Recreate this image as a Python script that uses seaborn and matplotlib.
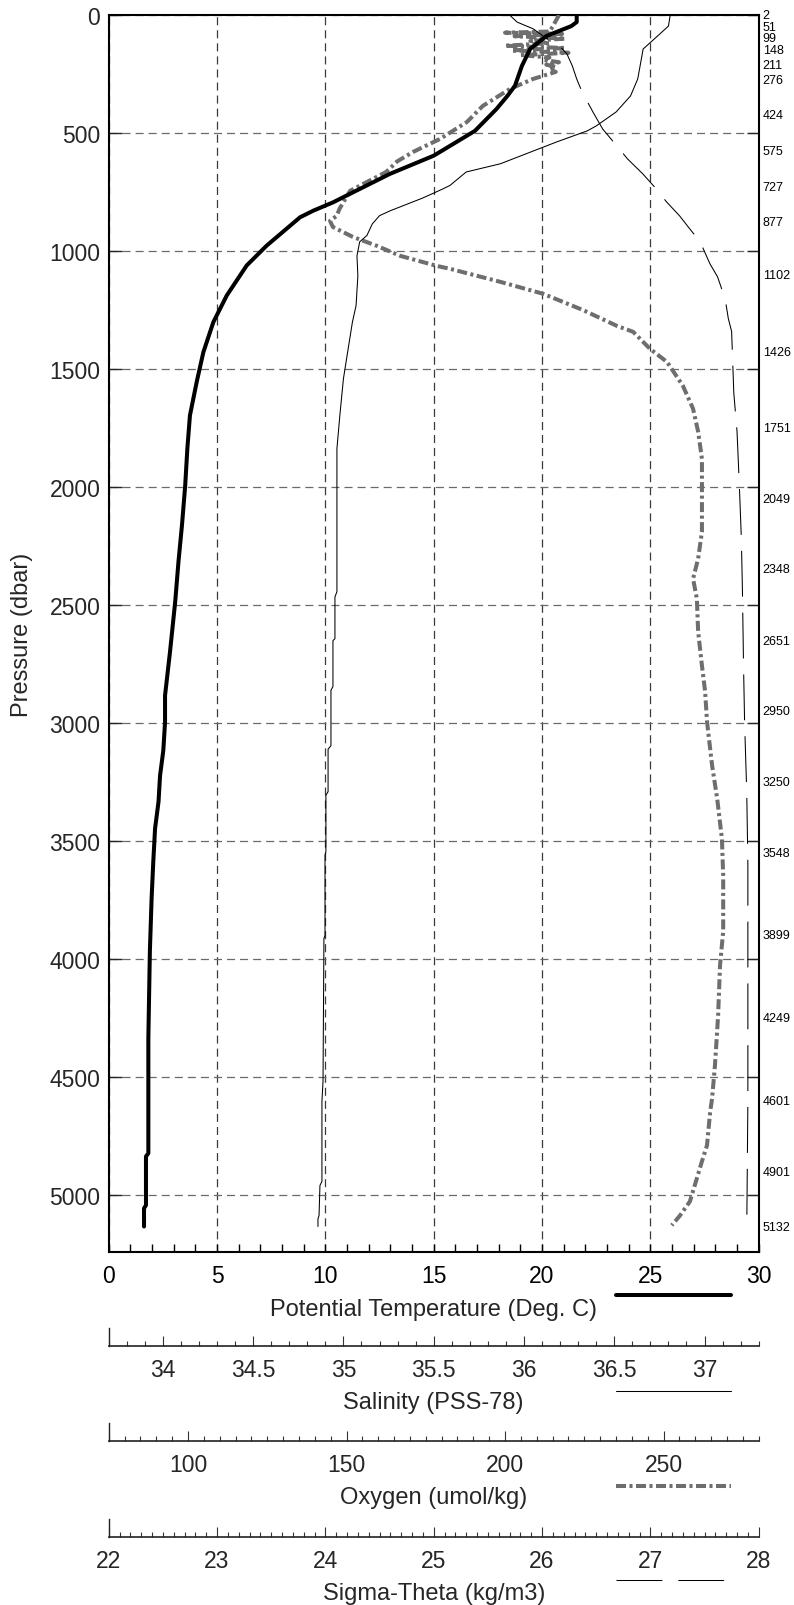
import numpy as np
import pandas as pd
import matplotlib
matplotlib.use("Agg")
import matplotlib.pyplot as plt
from matplotlib.lines import Line2D
from matplotlib.ticker import MultipleLocator, FixedLocator
import seaborn as sns

sns.set_style("white")
plt.rcParams['font.family'] = ['Liberation Sans', 'DejaVu Sans']
plt.rcParams['lines.scale_dashes'] = False

# ---------------- data ----------------
temp_pres = [0, 30, 47, 89, 144, 216, 300, 343, 398, 491, 596, 673, 779, 793, 829,
             857, 977, 1061, 1188, 1301, 1428, 1555, 1696, 1837, 1994, 2163, 2316, 2485,
             2697, 2883, 2997, 3116, 3222, 3332, 3446, 3582, 3743, 3967, 4335, 4822,
             4835, 5042, 5055, 5132]
temp_vals = [21.6, 21.6, 21.35, 20.2, 19.45, 19.07, 18.75, 18.4, 17.9, 16.9, 15.0,
             12.98, 10.67, 10.37, 9.44, 8.83, 7.29, 6.37, 5.45, 4.83, 4.37, 4.06, 3.75,
             3.63, 3.53, 3.38, 3.22, 3.07, 2.83, 2.6, 2.6, 2.52, 2.37, 2.3, 2.14, 2.06,
             1.98, 1.9, 1.83, 1.83, 1.72, 1.72, 1.63, 1.63]

sal_pres = [0, 47, 89, 144, 229, 271, 343, 411, 470, 491, 538, 630, 665, 722, 737, 775,
            829, 850, 885, 934, 961, 1020, 1105, 1231, 1300, 1444, 1541, 1698, 1837,
            2443, 2465, 2642, 2650, 2845, 2860, 3095, 3110, 3290, 3305, 3544, 3560,
            3899, 3912, 4517, 4602, 4941, 4958, 5085, 5100, 5132]
sal_vals = [36.81, 36.80, 36.74, 36.66, 36.64, 36.63, 36.59, 36.51, 36.40, 36.35, 36.18,
            35.87, 35.68, 35.59, 35.55, 35.44, 35.26, 35.20, 35.16, 35.13, 35.09, 35.075,
            35.08, 35.07, 35.05, 35.02, 35.00, 34.98, 34.964, 34.964, 34.953, 34.953,
            34.942, 34.942, 34.931, 34.931, 34.915, 34.915, 34.903, 34.903, 34.898,
            34.898, 34.892, 34.887, 34.881, 34.881, 34.870, 34.865, 34.859, 34.859]

oxy_pres = [0, 25, 50, 70, 75, 80, 90, 100, 110, 120, 130, 140, 150, 160, 170, 180, 190,
            200, 210, 220, 230, 241, 271, 313, 385, 453, 525, 580, 620, 665, 707, 745,
            766, 821, 851, 872, 898, 940, 978, 1020, 1063, 1075, 1130, 1181, 1250, 1317,
            1342, 1384, 1414, 1470, 1571, 1668, 1765, 1880, 1994, 2189, 2303, 2388, 2473,
            2612, 2756, 2866, 2993, 3179, 3319, 3489, 3645, 3882, 4026, 4238, 4450, 4590,
            4645, 4788, 4856, 4928, 5026, 5085, 5127]
oxy_vals = [217, 216, 215, 214, 200, 218, 203, 219, 208, 214, 200, 219, 202, 220, 205, 214,
            212, 217, 213, 216, 214, 216, 208.8, 201.6, 193.0, 188.0, 179.5, 171.0, 166.0,
            162.5, 156.5, 151.1, 150.2, 147.8, 146.9, 144.8, 145.7, 152.0, 159.6, 166.9,
            178.5, 182.6, 198.4, 212.0, 224.6, 235.3, 240.4, 243.5, 245.7, 251.1, 256.1,
            259.3, 260.9, 262.1, 262.1, 262.1, 260.9, 259.3, 260.5, 260.9, 262.1, 263.1,
            263.7, 265.3, 266.9, 268.4, 268.8, 268.8, 267.8, 267.2, 266.2, 265.3, 264.7,
            263.7, 262.1, 260.5, 258.3, 255.2, 252.6]

sig_pres = [0, 30, 59, 89, 135, 165, 216, 271, 326, 411, 483, 538, 610, 673, 724, 792,
            851, 898, 961, 1054, 1109, 1202, 1287, 1340, 1470, 1600, 1765, 1977, 2218,
            2443, 2756, 3000, 3300, 3600, 4600, 5132]
sig_vals = [25.70, 25.77, 25.92, 26.01, 26.17, 26.23, 26.28, 26.32, 26.37, 26.47, 26.56,
            26.66, 26.79, 26.93, 27.03, 27.15, 27.27, 27.35, 27.46, 27.55, 27.62, 27.69,
            27.72, 27.75, 27.76, 27.77, 27.80, 27.82, 27.84, 27.85, 27.86, 27.87, 27.89,
            27.90, 27.90, 27.89]

bottle_pres = [2, 51, 99, 148, 211, 276, 424, 575, 727, 877, 1102, 1426, 1751, 2049, 2348,
               2651, 2950, 3250, 3548, 3899, 4249, 4601, 4901, 5132]

pres_ticks = list(range(0, 5001, 500))
temp_ticks = [0, 5, 10, 15, 20, 25, 30]
sal_ticks = [34, 34.5, 35, 35.5, 36, 36.5, 37]
sal_labels = ["34", "34.5", "35", "35.5", "36", "36.5", "37"]
oxy_ticks = [100, 150, 200, 250]
sig_ticks = [22, 23, 24, 25, 26, 27, 28]

temp_lim = (0, 30)
sal_lim = (33.7, 37.3)
oxy_lim = (75, 280)
sig_lim = (22, 28)
pres_lim = (5240, 0)

temp_df = pd.DataFrame({"p": temp_pres, "v": temp_vals})
sal_df = pd.DataFrame({"p": sal_pres, "v": sal_vals})
oxy_df = pd.DataFrame({"p": oxy_pres, "v": oxy_vals})
sig_df = pd.DataFrame({"p": sig_pres, "v": sig_vals})

# ---------------- styles ----------------
GRAY = '#6e6e6e'
TICK_FS = 16.5
TITLE_FS = 17
oxy_ls = (0, (7.2, 2.5, 2.2, 2.5))
sig_ls = (0, (33, 11.5))

W, H = 794, 1606
L, R = 108.7, 758.7
TOP, BOT = 16, 1253

fig = plt.figure(figsize=(W / 100, H / 100), dpi=100)
ax = fig.add_axes([L / W, 1 - BOT / H, (R - L) / W, (BOT - TOP) / H])
ax.set_xlim(*temp_lim)
ax.set_ylim(*pres_lim)
ax.xaxis.set_major_locator(FixedLocator(temp_ticks))
ax.xaxis.set_minor_locator(MultipleLocator(1))
ax.yaxis.set_major_locator(FixedLocator(pres_ticks))
ax.set_xticklabels([str(t) for t in temp_ticks])
ax.set_yticklabels([str(t) for t in pres_ticks])
ax.tick_params(axis='x', which='both', direction='in', top=True, bottom=True,
               length=6, width=1.0, labelsize=TICK_FS, pad=8.5, colors='black')
ax.tick_params(axis='y', which='major', direction='in', left=True, right=True,
               length=9, width=1.0, labelsize=TICK_FS, pad=6)
ax.xaxis.grid(True, which='major', color='#3a3a3a', linestyle=(0, (5.8, 3.6)), linewidth=0.9)
ax.yaxis.grid(True, which='major', color='#6a6a6a', linestyle=(0, (5.8, 3.6)), linewidth=0.9)
for s in ax.spines.values():
    s.set_linewidth(1.5)
    s.set_color('black')
ax.set_ylabel("Pressure (dbar)", fontsize=TITLE_FS, labelpad=12)
ax.set_xlabel("Potential Temperature (Deg. C)", fontsize=TITLE_FS, labelpad=8)


def twin(lim):
    t = ax.twiny()
    t.set_xlim(*lim)
    t.set_axis_off()
    return t


ax_o = twin(oxy_lim)
sns.lineplot(data=oxy_df, x="v", y="p", orient="y", estimator=None, sort=True, ax=ax_o,
             color=GRAY, linewidth=2.9, linestyle=oxy_ls, legend=False)
ax_sg = twin(sig_lim)
sns.lineplot(data=sig_df, x="v", y="p", orient="y", estimator=None, sort=True, ax=ax_sg,
             color='black', linewidth=0.75, linestyle=sig_ls, legend=False)
ax_s = twin(sal_lim)
sns.lineplot(data=sal_df, x="v", y="p", orient="y", estimator=None, sort=True, ax=ax_s,
             color='black', linewidth=0.75, legend=False)
ax_t = twin(temp_lim)
sns.lineplot(data=temp_df, x="v", y="p", orient="y", estimator=None, sort=True, ax=ax_t,
             color='black', linewidth=2.9, legend=False)
ax_o.set_xlim(*oxy_lim)
ax_sg.set_xlim(*sig_lim)
ax_s.set_xlim(*sal_lim)
ax_t.set_xlim(*temp_lim)
ax.set_ylim(*pres_lim)

# bottle pressure labels at right
for bp in bottle_pres:
    ax.text(1.006, bp, str(bp), transform=ax.get_yaxis_transform(), ha='left',
            va='center', fontsize=9, color='black', clip_on=False)


def scale_axis(y_spine, lim, ticks, labels, minor, title):
    a = fig.add_axes([L / W, 1 - y_spine / H, (R - L) / W, 18 / H])
    a.set_xlim(*lim)
    a.set_ylim(0, 1)
    a.patch.set_visible(False)
    a.spines['top'].set_visible(False)
    a.spines['right'].set_visible(False)
    a.spines['left'].set_linewidth(1.0)
    a.spines['bottom'].set_linewidth(1.2)
    a.spines['left'].set_color('#222222')
    a.spines['bottom'].set_color('#222222')
    a.set_yticks([])
    a.xaxis.set_major_locator(FixedLocator(ticks))
    a.set_xticklabels(labels)
    a.xaxis.set_minor_locator(MultipleLocator(minor))
    a.tick_params(axis='x', which='major', direction='in', bottom=True, top=False,
                  length=7, width=0.8, labelsize=TICK_FS, pad=8.5, color='#333333')
    a.tick_params(axis='x', which='minor', direction='in', bottom=True, top=False,
                  length=3.5, width=0.8, color='#333333')
    a.set_xlabel(title, fontsize=TITLE_FS, labelpad=7)
    return a


scale_axis(1347, sal_lim, sal_ticks, sal_labels, 0.1, "Salinity (PSS-78)")
scale_axis(1442, oxy_lim, oxy_ticks, [str(t) for t in oxy_ticks], 5, "Oxygen (umol/kg)")
scale_axis(1538, sig_lim, sig_ticks, [str(t) for t in sig_ticks], 0.1, "Sigma-Theta (kg/m3)")

# legend keys
def key(y, **kw):
    fig.add_artist(Line2D([616 / W, 731 / W], [1 - y / H, 1 - y / H],
                          transform=fig.transFigure, **kw))


key(1296, color='black', linewidth=2.9)
key(1392, color='black', linewidth=0.75)
key(1487, color=GRAY, linewidth=2.9, linestyle=oxy_ls)
key(1581, color='black', linewidth=0.75, linestyle=sig_ls)

fig.savefig("out.png", dpi=100)
